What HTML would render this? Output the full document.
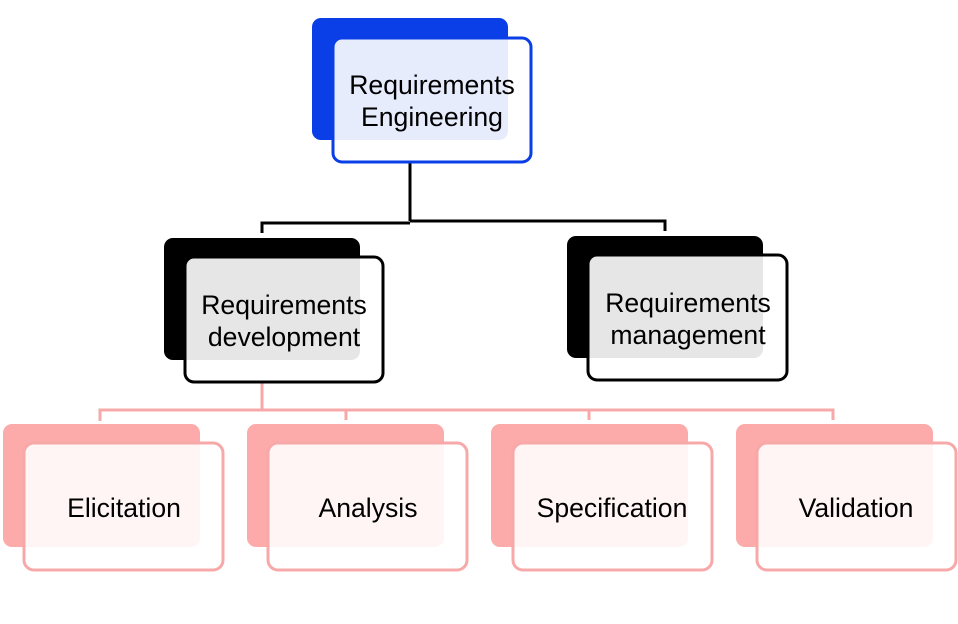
<!DOCTYPE html>
<html><head><meta charset="utf-8"><style>
html,body{margin:0;padding:0;background:#fff;width:958px;height:624px;overflow:hidden}
svg text{font-family:"Liberation Sans",Arial,sans-serif;font-size:26.6px;fill:#000;text-anchor:middle}
</style></head><body>
<svg width="958" height="624" viewBox="0 0 958 624" xmlns="http://www.w3.org/2000/svg">
<g fill="none" stroke="#000" stroke-width="3">
<path d="M410 163 V221 M262 233 V223 H410 M410 221 H665 V231"/>
</g>
<g fill="none" stroke="#f7a8a8" stroke-width="3">
<path d="M262 383 V410 M100 421 V410 H833 V420 M346 410 V420 M589 410 V420"/>
</g>
<rect x="312" y="18" width="196" height="122" rx="9" fill="#0a3ee6"/>
<rect x="333" y="38" width="198" height="124" rx="9" fill="rgba(255,255,255,0.9)" stroke="#0a3ee6" stroke-width="3"/>
<text x="432" y="94">Requirements</text>
<text x="432" y="126">Engineering</text>
<rect x="164" y="238" width="196" height="122" rx="9" fill="#000"/>
<rect x="185" y="257" width="198" height="125" rx="9" fill="rgba(255,255,255,0.9)" stroke="#000" stroke-width="3"/>
<text x="284" y="314">Requirements</text>
<text x="284" y="346">development</text>
<rect x="567" y="236" width="196" height="122" rx="9" fill="#000"/>
<rect x="588" y="255" width="199" height="125" rx="9" fill="rgba(255,255,255,0.9)" stroke="#000" stroke-width="3"/>
<text x="688" y="312">Requirements</text>
<text x="688" y="344">management</text>
<g>
<rect x="3" y="424" width="197" height="123" rx="9" fill="#fcaaaa"/>
<rect x="24" y="443" width="199" height="127" rx="10" fill="rgba(255,255,255,0.88)" stroke="#f7a8a8" stroke-width="3"/>
<text x="124" y="517">Elicitation</text>
<rect x="247" y="424" width="197" height="123" rx="9" fill="#fcaaaa"/>
<rect x="268" y="443" width="199" height="127" rx="10" fill="rgba(255,255,255,0.88)" stroke="#f7a8a8" stroke-width="3"/>
<text x="368" y="517">Analysis</text>
<rect x="491" y="424" width="197" height="123" rx="9" fill="#fcaaaa"/>
<rect x="513" y="443" width="199" height="127" rx="10" fill="rgba(255,255,255,0.88)" stroke="#f7a8a8" stroke-width="3"/>
<text x="612" y="517">Specification</text>
<rect x="736" y="424" width="197" height="123" rx="9" fill="#fcaaaa"/>
<rect x="757" y="443" width="199" height="127" rx="10" fill="rgba(255,255,255,0.88)" stroke="#f7a8a8" stroke-width="3"/>
<text x="856" y="517">Validation</text>
</g>
</svg>
</body></html>
